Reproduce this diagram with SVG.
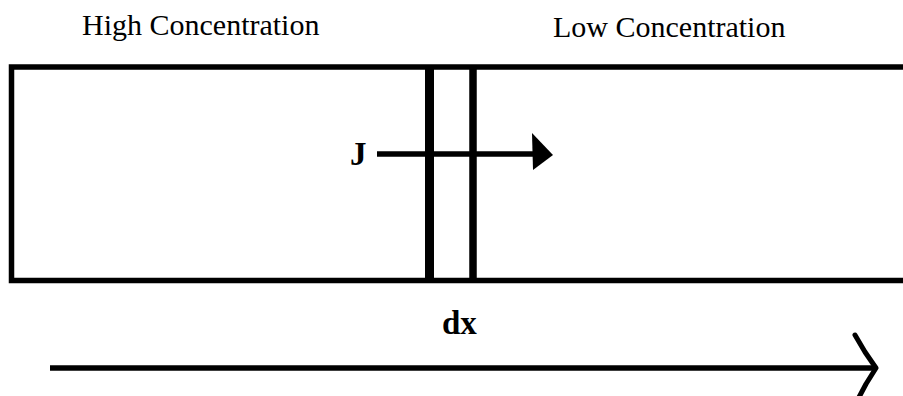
<svg xmlns="http://www.w3.org/2000/svg" width="903" height="396" viewBox="0 0 903 396">
  <style>
    .lbl { font-family: "Liberation Serif", "Times New Roman", serif; fill: #000; }
    .bold { font-weight: bold; }
    .ln { stroke: #000; fill: none; }
  </style>
  <rect x="0" y="0" width="903" height="396" fill="#fff"/>
  <g id="high-label">
    <text class="lbl" x="82" y="35" font-size="30">High Concentration</text>
  </g>
  <g id="low-label">
    <text class="lbl" x="553" y="37" font-size="30">Low Concentration</text>
  </g>
  <g id="box">
    <path class="ln" d="M903,67 H11.5 V280.5 H903" stroke-width="5.5" stroke-linejoin="miter"/>
  </g>
  <g id="slab">
    <line class="ln" x1="429.5" y1="67" x2="429.5" y2="280.5" stroke-width="9"/>
    <line class="ln" x1="473" y1="67" x2="473" y2="280.5" stroke-width="7.5"/>
    <text class="lbl bold" x="442" y="334" font-size="33">dx</text>
  </g>
  <g id="flux-label">
    <text class="lbl bold" x="350" y="165" font-size="33">J</text>
  </g>
  <g id="connectors">
    <line class="ln" x1="377" y1="154" x2="534" y2="154" stroke-width="5.5"/>
    <polygon points="532,133 553,155 533,170" fill="#000"/>
    <line class="ln" x1="50" y1="368" x2="875" y2="368" stroke-width="5.5"/>
    <polyline class="ln" points="855,335 865,352 876,368 866,384 857,401" stroke-width="5" stroke-linejoin="round" stroke-linecap="round"/>
  </g>
</svg>
